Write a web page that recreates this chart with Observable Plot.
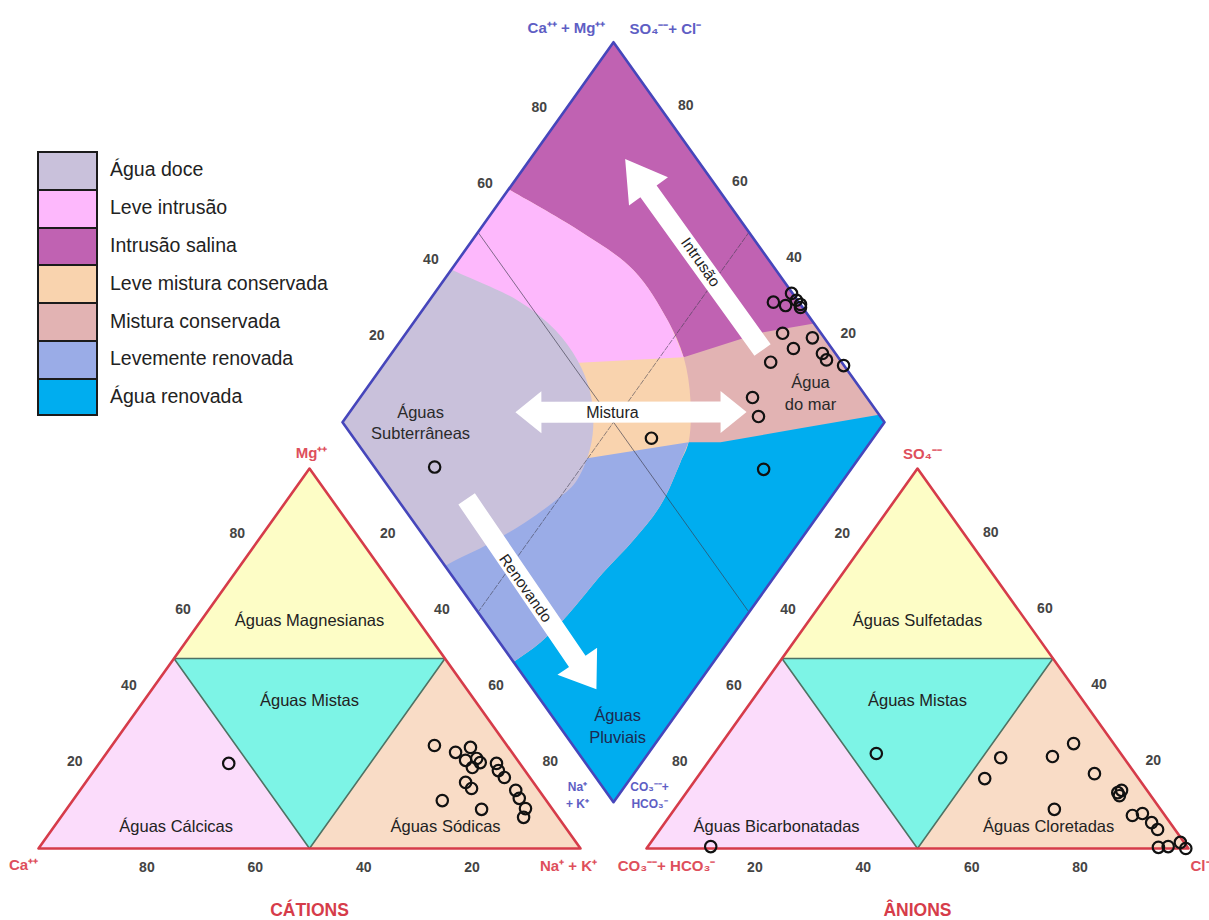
<!DOCTYPE html>
<html lang="pt">
<head>
<meta charset="utf-8">
<title>Diagrama de Piper</title>
<script src="https://cdn.jsdelivr.net/npm/d3@7"></script>
<script src="https://cdn.jsdelivr.net/npm/@observablehq/plot@0.6"></script>
<style>
html,body{margin:0;padding:0;background:#fff;}
#wrap{position:relative;width:1209px;height:920px;overflow:hidden;font-family:"Liberation Sans",Arial,sans-serif;}
#chart{position:absolute;left:0;top:0;}
#legend{position:absolute;left:37px;top:151px;}
.row{display:flex;align-items:center;height:37.8px;}
.sw{width:61px;height:100%;box-sizing:border-box;border:2.5px solid #1b1b1b;border-bottom:none;}
.row:last-child .sw{border-bottom:2.5px solid #1b1b1b;}
.lt{margin-left:12px;font-size:19.5px;color:#222;white-space:nowrap;}
</style>
</head>
<body>
<div id="wrap"><div id="chart"></div><div id="legend"></div></div>
<script>
// ---------------- data ----------------
const tickValues = [20, 40, 60, 80];

const legendLabels = ["Água doce", "Leve intrusão", "Intrusão salina", "Leve mistura conservada",
  "Mistura conservada", "Levemente renovada", "Água renovada"];
const legendColors = ["#c9c1db", "#fdb8fc", "#c062b2", "#f9d3ae", "#e2b3b3", "#9aace7", "#00adef"];

// cations (left triangle): Ca %, Mg % (Na+K = remainder)
const cationCa = [13.4, 10.4, 7.0, 9.6, 7.3, 9.3, 7.2, 4.3, 4.9, 4.7, 12.5, 12.2, 4.3, 4.7, 4.9, 6.4, 19.2, 13.1, 53.7];
const cationMg = [27.1, 25.3, 26.6, 23.2, 23.7, 21.3, 22.6, 22.4, 20.5, 18.7, 17.4, 15.8, 15.3, 13.2, 10.5, 8.2, 12.6, 10.3, 22.4];

// anions (right triangle): SO4 %, Cl % (CO3+HCO3 = remainder)
const anionSO4 = [0.5, 25.0, 18.4, 23.9, 24.2, 27.6, 19.7, 10.3, 14.7, 15.3, 13.9, 8.7, 9.2, 6.8, 5.0, 0.3, 0.5, 1.6, 0.0];
const anionCl  = [11.6, 29.9, 53.2, 53.4, 62.8, 65.0, 72.8, 70.1, 79.6, 80.0, 80.3, 85.3, 86.9, 89.8, 91.8, 94.3, 96.0, 97.7, 99.5];

// diamond: Ca+Mg %, SO4+Cl %
const diamondCaMg  = [36.3, 34.1, 33.6, 32.3, 31.0, 30.6, 30.5, 24.4, 26.5, 20.5, 18.9, 15.0, 28.9, 27.6, 24.0, 16.1, 40.9, 77.1];
const diamondSO4Cl = [95.3, 99.8, 97.1, 99.8, 100, 99.6, 92.9, 97.8, 92.9, 97.6, 97.5, 99.9, 86.9, 78.9, 77.5, 71.5, 54.9, 11.1];

// triangle zones (vertices in %)
const catZoneNames = ["Águas Cálcicas", "Águas Sódicas", "Águas Magnesianas", "Águas Mistas"];
const anZoneNames  = ["Águas Bicarbonatadas", "Águas Cloretadas", "Águas Sulfetadas", "Águas Mistas"];
const triZoneColors = ["#fbdcfb", "#f9dcc6", "#fdfdc6", "#7df4e6"];
const catZoneCa = [[100, 50, 50], [0, 0, 50], [0, 0, 50], [50, 50, 0]];
const catZoneMg = [[0, 0, 50], [0, 50, 0], [100, 50, 50], [0, 50, 50]];
const anZoneSO4 = [[0, 0, 50], [0, 50, 0], [100, 50, 50], [0, 50, 50]];
const anZoneCl  = [[0, 50, 0], [100, 50, 50], [0, 0, 50], [50, 50, 0]];
const catLabelCa = [71.7, 22, 20, 30.5];
const catLabelMg = [5.8, 5.8, 60, 39];
const anLabelSO4 = [5.8, 5.8, 60, 39];
const anLabelCl  = [21.1, 71.3, 20, 30.5];

// diamond facies zones, painted in this order (Ca+Mg %, SO4+Cl %); "smooth" ones follow curved arcs,
// their overshoot outside the diamond is hidden by a white mask
const diamondZoneNames = ["Água renovada", "Mistura conservada", "Intrusão salina", "Leve mistura conservada",
  "Leve intrusão", "Levemente renovada", "Água doce"];
const diamondZoneSmooth = [false, false, false, true, true, true, true];
const diamondZoneCaMg = [
  [0, 100, 100, 0],
  [33.5, 27.6, 14.7, 2, 100, 100, 36.9],
  [45.6, 34.8, 26, 100, 100],
  [104, 100, 81.7, 66.3, 53.5, 45.6, 38.7, 33.5, 32.4, 30.4, 30.8, 32.1, 33.1, 34.5, 36.9, 38.5, 120, 125],
  [45.6, 53.5, 66.3, 81.7, 100, 104, 125, 81.7],
  [33.5, 32.4, 30.4, 30.8, 32.1, 33.1, 34.5, 36.9, 38.5, 80, 64.3],
  [104, 100, 83.8, 72.8, 64.8, 58.6, 54, 50.7, 49.1, 50.4, 53.1, 56.8, 62, 64, 110, 115]
];
const diamondZoneSO4Cl = [
  [0, 0, 100, 100],
  [61.2, 67.1, 83.7, 100, 100, 0, 0],
  [71.5, 88.7, 100, 100, 61.3],
  [59.7, 61.3, 68.8, 73.7, 73.4, 71.5, 67.1, 61.2, 57.1, 47.8, 38.2, 28.4, 16.1, 7.6, 0, -5, -15, 45],
  [71.5, 73.4, 73.7, 68.8, 61.3, 59.7, 45, 32.6],
  [61.2, 57.1, 47.8, 38.2, 28.4, 16.1, 7.6, 0, -5, -15, 22.6],
  [38.5, 40.2, 48.3, 51.4, 51.5, 49.8, 46.6, 41.9, 35.1, 29, 20.6, 11.4, 0.4, -5, -15, 30]
];

// diamond texts (Ca+Mg %, SO4+Cl %)
const diamondTexts = ["Águas\nSubterrâneas", "Água\ndo mar", "Águas\nPluviais"];
const diamondTextCaMg = [85.7, 17.6, 9.4];
const diamondTextSO4Cl = [14.5, 90.3, 10.9];

// arrows (Ca+Mg %, SO4+Cl %)
const arrowNames = ["Intrusão", "Mistura", "Renovando"];
const arrowFromCaMg = [32, 69.4, 67];
const arrowFromSO4Cl = [87, 33.2, 12.8];
const arrowToCaMg = [82.5, 26.8, 18];
const arrowToSO4Cl = [86.8, 75.9, 11.7];
const arrowBoth = [false, true, false];
const arrowLabelCaMg = [55, 51.4, 44.4];
const arrowLabelSO4Cl = [87.1, 51, 11.9];

// ---------------- geometry ----------------
const H = Math.sqrt(3) / 2;
const GAP = 66 / 542;
const XR = [38, 580], YR = [848, 468];
const toPx = (p) => [XR[0] + (XR[1] - XR[0]) * p.x, YR[0] + (YR[1] - YR[0]) * p.y / H];
const fromPx = ([px, py]) => ({x: (px - XR[0]) / (XR[1] - XR[0]), y: (py - YR[0]) / (YR[1] - YR[0]) * H});

const catXY = (ca, mg) => { const na = 100 - ca - mg; return {x: (na + mg / 2) / 100, y: mg / 100 * H}; };
const anXY = (so4, cl) => ({x: 1 + GAP + (cl + so4 / 2) / 100, y: so4 / 100 * H});
const diaXY = (c, s) => ({x: 1 + GAP / 2 + (s - c) / 200, y: GAP * H + (c + s) / 100 * H});

const zoneColor = Object.fromEntries(legendLabels.map((l, i) => [l, legendColors[i]]));

function arrowPolygon(from, to, shaft, headLen, headW, both) {
  const [x0, y0] = toPx(from), [x1, y1] = toPx(to);
  const L = Math.hypot(x1 - x0, y1 - y0);
  const ux = (x1 - x0) / L, uy = (y1 - y0) / L, px = -uy, py = ux;
  const at = (t, w) => [x0 + ux * t + px * w, y0 + uy * t + py * w];
  const s = shaft / 2, h = headW / 2;
  let pts;
  if (both) {
    pts = [at(0, 0), at(headLen, h), at(headLen, s), at(L - headLen, s), at(L - headLen, h), at(L, 0),
      at(L - headLen, -h), at(L - headLen, -s), at(headLen, -s), at(headLen, -h)];
  } else {
    pts = [at(0, s), at(L - headLen, s), at(L - headLen, h), at(L, 0), at(L - headLen, -h), at(L - headLen, -s), at(0, -s)];
  }
  return pts.map(fromPx);
}

const poly = (pts, opts) => Plot.line(pts, {x: "x", y: "y", curve: "linear-closed", ...opts});

// ---------------- marks ----------------
const marks = [];

// diamond zones
diamondZoneNames.forEach((n, i) => {
  const pts = diamondZoneCaMg[i].map((c, j) => diaXY(c, diamondZoneSO4Cl[i][j]));
  marks.push(Plot.line(pts, {x: "x", y: "y", curve: diamondZoneSmooth[i] ? "catmull-rom" : "linear-closed",
    fill: zoneColor[n], stroke: "none"}));
});
// white mask around the diamond (outer large diamond with the real diamond as a hole)
const maskCaMg = [140, 140, -40, -40, 140, 100, 0, 0, 100, 100, 140];
const maskSO4Cl = [-40, 140, 140, -40, -40, 0, 0, 100, 100, 0, -40];
marks.push(Plot.line(maskCaMg.map((c, j) => diaXY(c, maskSO4Cl[j])), {x: "x", y: "y", fill: "#ffffff", stroke: "none"}));

// triangle zones
catZoneNames.forEach((n, i) => {
  const pts = catZoneCa[i].map((ca, j) => catXY(ca, catZoneMg[i][j]));
  marks.push(poly(pts, {fill: triZoneColors[i], stroke: "none"}));
});
anZoneNames.forEach((n, i) => {
  const pts = anZoneSO4[i].map((so, j) => anXY(so, anZoneCl[i][j]));
  marks.push(poly(pts, {fill: triZoneColors[i], stroke: "none"}));
});
marks.push(poly(catZoneCa[3].map((ca, j) => catXY(ca, catZoneMg[3][j])), {fill: "none", stroke: "#4f7264", strokeWidth: 1.6}));
marks.push(poly(anZoneSO4[3].map((so, j) => anXY(so, anZoneCl[3][j])), {fill: "none", stroke: "#4f7264", strokeWidth: 1.6}));
marks.push(poly([catXY(100, 0), catXY(0, 0), catXY(0, 100)], {fill: "none", stroke: "#d63c4a", strokeWidth: 2.6}));
marks.push(poly([anXY(0, 0), anXY(0, 100), anXY(100, 0)], {fill: "none", stroke: "#d63c4a", strokeWidth: 2.6}));

// diamond 50% guide lines
marks.push(Plot.line([diaXY(100, 50), diaXY(0, 50)], {x: "x", y: "y", stroke: "#3a3a4a", strokeWidth: 0.8, strokeOpacity: 0.8}));
marks.push(Plot.line([diaXY(50, 0), diaXY(50, 100)], {x: "x", y: "y", stroke: "#3a3a4a", strokeWidth: 0.8, strokeOpacity: 0.7, strokeDasharray: "5,2"}));
// diamond border
marks.push(poly([diaXY(0, 0), diaXY(100, 0), diaXY(100, 100), diaXY(0, 100)], {fill: "none", stroke: "#4646bb", strokeWidth: 2.6}));

// arrows
const arrowStyle = [[20, 40, 48], [21, 26, 42], [20, 34, 48]];
arrowNames.forEach((n, i) => {
  const pts = arrowPolygon(diaXY(arrowFromCaMg[i], arrowFromSO4Cl[i]), diaXY(arrowToCaMg[i], arrowToSO4Cl[i]),
    arrowStyle[i][0], arrowStyle[i][1], arrowStyle[i][2], arrowBoth[i]);
  marks.push(poly(pts, {fill: "#ffffff", stroke: "none"}));
});
const fontF = "Liberation Sans, Arial, sans-serif";
const arrowLab = arrowNames.map((t, i) => ({...diaXY(arrowLabelCaMg[i], arrowLabelSO4Cl[i]), t}));
marks.push(Plot.text([arrowLab[0], arrowLab[2]], {x: "x", y: "y", text: "t", rotate: 55, fontSize: 15.5, fill: "#222", fontFamily: fontF}));
marks.push(Plot.text([arrowLab[1]], {x: "x", y: "y", text: "t", fontSize: 16, fill: "#222", fontFamily: fontF}));

// zone texts
const catLab = catZoneNames.map((t, i) => ({...catXY(catLabelCa[i], catLabelMg[i]), t}));
const anLab = anZoneNames.map((t, i) => ({...anXY(anLabelSO4[i], anLabelCl[i]), t}));
const diaLab = diamondTexts.map((t, i) => ({...diaXY(diamondTextCaMg[i], diamondTextSO4Cl[i]), t}));
marks.push(Plot.text(catLab.concat(anLab), {x: "x", y: "y", text: "t", fontSize: 16.5, fill: "#222", fontFamily: fontF}));
marks.push(Plot.text(diaLab.slice(0, 2), {x: "x", y: "y", text: "t", fontSize: 16.5, lineHeight: 1.3, fill: "#2a2a2a", fontFamily: fontF}));
marks.push(Plot.text(diaLab.slice(2), {x: "x", y: "y", text: "t", fontSize: 16.5, lineHeight: 1.3, fill: "#1c2a50", fontFamily: fontF}));

// data points
const cationPts = cationCa.map((ca, i) => catXY(ca, cationMg[i]));
const anionPts = anionSO4.map((so, i) => anXY(so, anionCl[i]));
const diaPts = diamondCaMg.map((c, i) => diaXY(c, diamondSO4Cl[i]));
marks.push(Plot.dot(cationPts.concat(anionPts, diaPts), {x: "x", y: "y", r: 5.7, fill: "none", stroke: "#111", strokeWidth: 2.2}));

// tick labels
const tickFont = {text: "t", fontSize: 14, fontWeight: "bold", fill: "#444", fontFamily: fontF};
const tk = (f) => tickValues.map(v => ({...f(v), t: String(v)}));
marks.push(Plot.text(tk(v => catXY(v, 0)), {x: "x", y: "y", dy: 19, ...tickFont}));
marks.push(Plot.text(tk(v => catXY(100 - v, v)), {x: "x", y: "y", dx: -18, dy: -11, ...tickFont}));
marks.push(Plot.text(tk(v => catXY(0, 100 - v)), {x: "x", y: "y", dx: 24, dy: -11, ...tickFont}));
marks.push(Plot.text(tk(v => anXY(0, v)), {x: "x", y: "y", dy: 19, ...tickFont}));
marks.push(Plot.text(tk(v => anXY(100 - v, 0)), {x: "x", y: "y", dx: -21, dy: -11, ...tickFont}));
marks.push(Plot.text(tk(v => anXY(v, 100 - v)), {x: "x", y: "y", dx: 19, dy: -12, ...tickFont}));
marks.push(Plot.text(tk(v => diaXY(100, v)), {x: "x", y: "y", dx: -20, dy: -11, ...tickFont}));
marks.push(Plot.text(tk(v => diaXY(v, 100)), {x: "x", y: "y", dx: 18, dy: -13, ...tickFont}));

// corner labels
const red = "#de4f5c", blue = "#5e5ec4";
const lab = (p, t, o) => Plot.text([{...p, t}], {x: "x", y: "y", text: "t", fontFamily: fontF, fontWeight: "bold", ...o});
marks.push(lab(catXY(0, 100), "Mg⁺⁺", {dy: -15, dx: 2, fontSize: 15, fill: red}));
marks.push(lab(catXY(100, 0), "Ca⁺⁺", {dy: 17, dx: -15, fontSize: 15, fill: red}));
marks.push(lab(catXY(0, 0), "Na⁺ + K⁺", {dy: 18, dx: -12, fontSize: 15, fill: red}));
marks.push(lab(anXY(0, 0), "CO₃⁻⁻+ HCO₃⁻", {dy: 18, dx: 20, fontSize: 15, fill: red}));
marks.push(lab(anXY(0, 100), "Cl⁻", {dy: 18, dx: 2, textAnchor: "start", fontSize: 15, fill: red}));
marks.push(lab(anXY(100, 0), "SO₄⁻⁻", {dy: -14, dx: 5, fontSize: 15, fill: red}));
marks.push(lab(catXY(50, 0), "CÁTIONS", {dy: 62, fontSize: 17.5, fill: "#d63c4a"}));
marks.push(lab(anXY(0, 50), "ÂNIONS", {dy: 62, fontSize: 17.5, fill: "#d63c4a"}));
marks.push(lab(diaXY(100, 100), "Ca⁺⁺ + Mg⁺⁺", {dy: -14, dx: -8, textAnchor: "end", fontSize: 15, fill: blue}));
marks.push(lab(diaXY(100, 100), "SO₄⁻⁻+ Cl⁻", {dy: -13, dx: 16, textAnchor: "start", fontSize: 15, fill: blue}));
marks.push(lab(diaXY(0, 0), "Na⁺\n+ K⁺", {dy: -8, dx: -36, fontSize: 12, lineHeight: 1.4, fill: blue}));
marks.push(lab(diaXY(0, 0), "CO₃⁻⁻+\nHCO₃⁻", {dy: -8, dx: 36, fontSize: 12, lineHeight: 1.4, fill: blue}));

const chart = Plot.plot({
  width: 1209,
  height: 920,
  margin: 0,
  x: {domain: [0, 1], range: XR, axis: null},
  y: {domain: [0, H], range: YR, axis: null},
  style: {background: "transparent", overflow: "hidden"},
  marks
});
document.getElementById("chart").append(chart);

// legend
const leg = d3.select("#legend");
legendLabels.forEach((l, i) => {
  const row = leg.append("div").attr("class", "row");
  row.append("div").attr("class", "sw").style("background", legendColors[i]);
  row.append("div").attr("class", "lt").text(l);
});
</script>
</body>
</html>
